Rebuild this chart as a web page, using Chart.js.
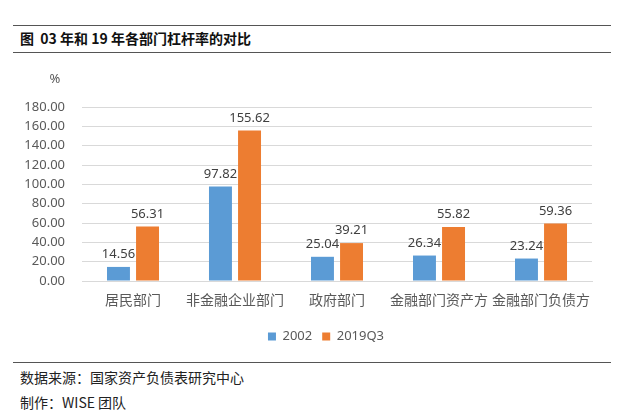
<!DOCTYPE html>
<html>
<head>
<meta charset="utf-8">
<script src="https://cdn.jsdelivr.net/npm/chart.js@4"></script>
<style>
  body { margin: 0; background: #fff; font-family: "Noto Sans CJK SC", sans-serif; }
  #wrap { position: relative; width: 624px; height: 415px; }
  .rule { position: absolute; left: 13px; width: 598px; height: 0; border-top: 1.5px solid #555; }
  #title { position: absolute; left: 20px; top: 28px; font-size: 14px; font-weight: bold; color: #111; white-space: pre; }
  .foot { position: absolute; left: 20px; font-size: 14px; color: #222; }
  #box { position: absolute; left: 0; top: 0; width: 624px; height: 353px; }
</style>
</head>
<body>
<div id="wrap">
  <div class="rule" style="top:25px"></div>
  <div id="title">图  03 年和 19 年各部门杠杆率的对比</div>
  <div class="rule" style="top:52px"></div>
  <div id="box"><canvas id="c"></canvas></div>
  <div class="rule" style="top:362px"></div>
  <div class="foot" style="top:367px">数据来源：国家资产负债表研究中心</div>
  <div class="foot" style="top:392px">制作：WISE 团队</div>
</div>
<script>
const sectors = ['居民部门', '非金融企业部门', '政府部门', '金融部门资产方', '金融部门负债方'];
const lev2002 = [14.56, 97.82, 25.04, 26.34, 23.24];
const lev2019 = [56.31, 155.62, 39.21, 55.82, 59.36];

const textGray = '#595959';

// value labels above each bar
const barLabels = {
  id: 'barLabels',
  afterDatasetsDraw(chart) {
    const ctx = chart.ctx;
    ctx.save();
    ctx.font = '13px "Noto Sans", sans-serif';
    ctx.fillStyle = '#404040';
    ctx.textAlign = 'center';
    ctx.textBaseline = 'bottom';
    chart.data.datasets.forEach((ds, i) => {
      chart.getDatasetMeta(i).data.forEach((bar, j) => {
        ctx.fillText(ds.data[j].toFixed(2), bar.x, bar.y - 6);
      });
    });
    ctx.restore();
  }
};

// "%" unit above the y axis
const unitLabel = {
  id: 'unitLabel',
  afterDraw(chart) {
    const ctx = chart.ctx;
    ctx.save();
    ctx.font = '13px "Noto Sans", sans-serif';
    ctx.fillStyle = textGray;
    ctx.textAlign = 'center';
    ctx.textBaseline = 'middle';
    ctx.fillText('%', 55, 79);
    ctx.restore();
  }
};

// legend sits a bit right of the canvas centre, under the plot area
const legendShift = {
  id: 'legendShift',
  afterLayout(chart) {
    chart.legend.left += 30;
    chart.legend.right += 30;
  }
};

new Chart(document.getElementById('c'), {
  type: 'bar',
  data: {
    labels: sectors,
    datasets: [
      { label: '2002', data: lev2002, backgroundColor: '#5B9BD5' },
      { label: '2019Q3', data: lev2019, backgroundColor: '#ED7D31' }
    ]
  },
  options: {
    responsive: true,
    maintainAspectRatio: false,
    animation: false,
    layout: { padding: { left: 0, right: 32, top: 107, bottom: 0 } },
    categoryPercentage: 0.57,
    barPercentage: 0.79,
    plugins: {
      legend: {
        position: 'bottom',
        labels: {
          boxWidth: 8, boxHeight: 8, padding: 10,
          color: textGray,
          font: { size: 13, family: '"Noto Sans", sans-serif' }
        }
      },
      tooltip: { enabled: false }
    },
    scales: {
      x: {
        grid: { display: false, drawTicks: false },
        border: { color: '#d9d9d9' },
        ticks: { color: textGray, padding: 10, font: { size: 14, family: '"Noto Sans CJK SC", sans-serif' }, maxRotation: 0 },
        afterFit(s) { s.height = 39; }
      },
      y: {
        min: 0, max: 180,
        ticks: {
          stepSize: 20, padding: 17, color: textGray,
          font: { size: 13, family: '"Noto Sans", sans-serif' },
          callback: v => v.toFixed(2)
        },
        grid: { color: '#d9d9d9', drawTicks: false },
        border: { display: false },
        afterFit(s) { s.width = 82; }
      }
    }
  },
  plugins: [barLabels, unitLabel, legendShift]
});
</script>
</body>
</html>
